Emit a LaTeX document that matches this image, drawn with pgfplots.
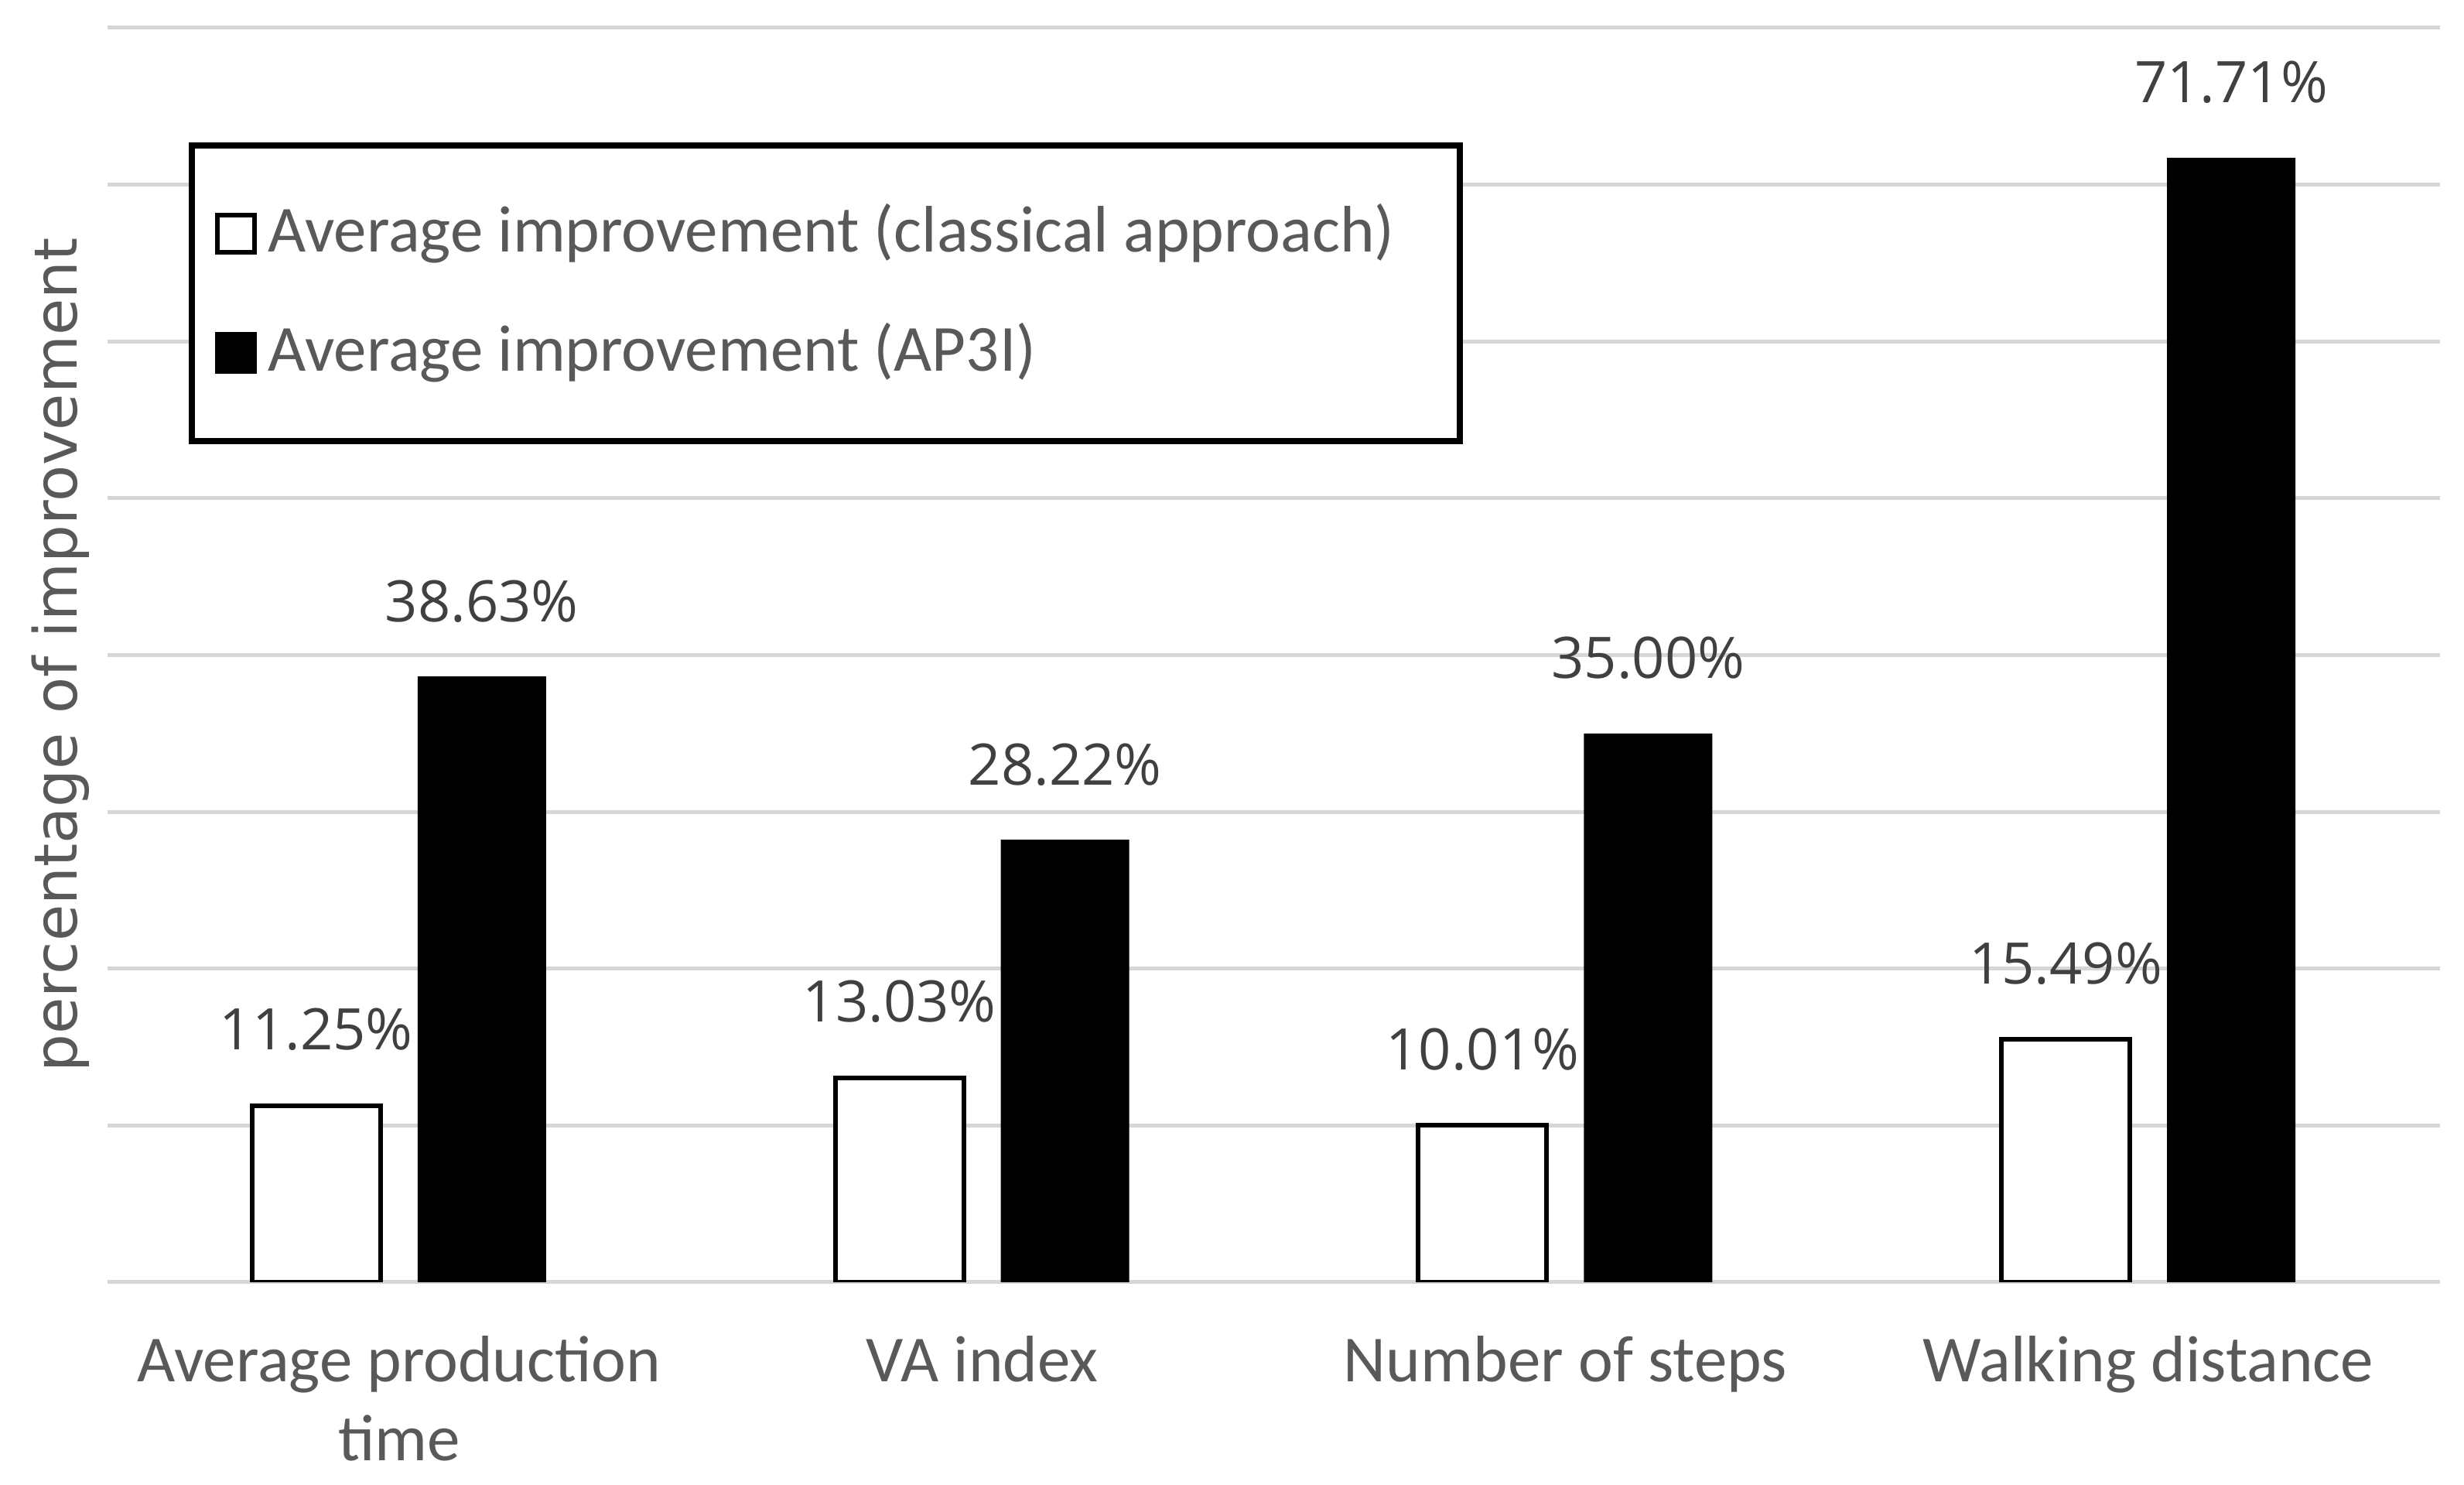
\documentclass[border=0pt]{standalone}
\usepackage{fontspec}
\setmainfont{Carlito}
\newfontfamily\valfont{Open Sans}
\newfontfamily\ylabfont{DejaVu Sans}
\usepackage{pgfplots}
\pgfplotsset{compat=1.18}

\definecolor{txtgray}{HTML}{595959}
\definecolor{valgray}{HTML}{404040}
\definecolor{gridgray}{HTML}{D6D6D6}

\begin{document}
\begin{tikzpicture}
\useasboundingbox (-13.9pt,-26.2pt) rectangle (304.6pt,165.7pt);
\begin{axis}[
    at={(0pt,0pt)}, anchor=south west,
    scale only axis,
    width=301.5pt, height=162.1pt,
    ybar, bar width=16.6pt,
    xmin=-0.5, xmax=3.5,
    ymin=0, ymax=80,
    ytick={0,10,...,80},
    yticklabels={},
    xtick={0,1,2,3},
    xticklabels={Average production\\time, VA index, Number of steps, Walking distance},
    xticklabel style={anchor=north, inner sep=0pt, yshift=-2.5pt, align=center,
        font=\fontsize{8.5}{10.2}\selectfont, text=txtgray},
    tick style={draw=none},
    axis line style={draw=none},
    ymajorgrids,
    major grid style={draw=gridgray, line width=0.5pt},
    ylabel={percentage of improvement},
    ylabel style={at={(axis description cs:-0.0202,0.5)}, anchor=center,
        font=\ylabfont\fontsize{7.7}{9}\selectfont, text=txtgray},
    point meta=explicit symbolic,
    nodes near coords,
    every node near coord/.append style={inner sep=0pt, yshift=6.8pt,
        font=\valfont\fontsize{7.4}{9}\selectfont, text=valgray},
    legend cell align=left,
    legend image code/.code={\draw[#1, line width=0.6pt] (0pt,-2.4pt) rectangle (4.8pt,2.4pt);},
    legend style={at={(axis description cs:0.3080,0.7884)}, anchor=center,
        draw=black, line width=0.8pt, fill=white,
        inner xsep=3.0pt, inner ysep=5.6pt, row sep=3.6pt,
        nodes={inner xsep=1.45pt, inner ysep=2pt, text depth=0.15em},
        font=\fontsize{8.5}{10}\selectfont, text=txtgray},
]
\addplot[fill=white, draw=black, line width=0.6pt, bar shift=-10.7pt]
    coordinates {(0,11.25) [11.25\%] (1,13.03) [13.03\%] (2,10.01) [10.01\%] (3,15.49) [15.49\%]};
\addlegendentry{Average improvement (classical approach)\hspace*{4.0pt}}
\addplot[fill=black, draw=none, bar shift=10.7pt]
    coordinates {(0,38.63) [38.63\%] (1,28.22) [28.22\%] (2,35.00) [35.00\%] (3,71.71) [71.71\%]};
\addlegendentry{Average improvement (AP3I)}
\end{axis}
\end{tikzpicture}
\end{document}
